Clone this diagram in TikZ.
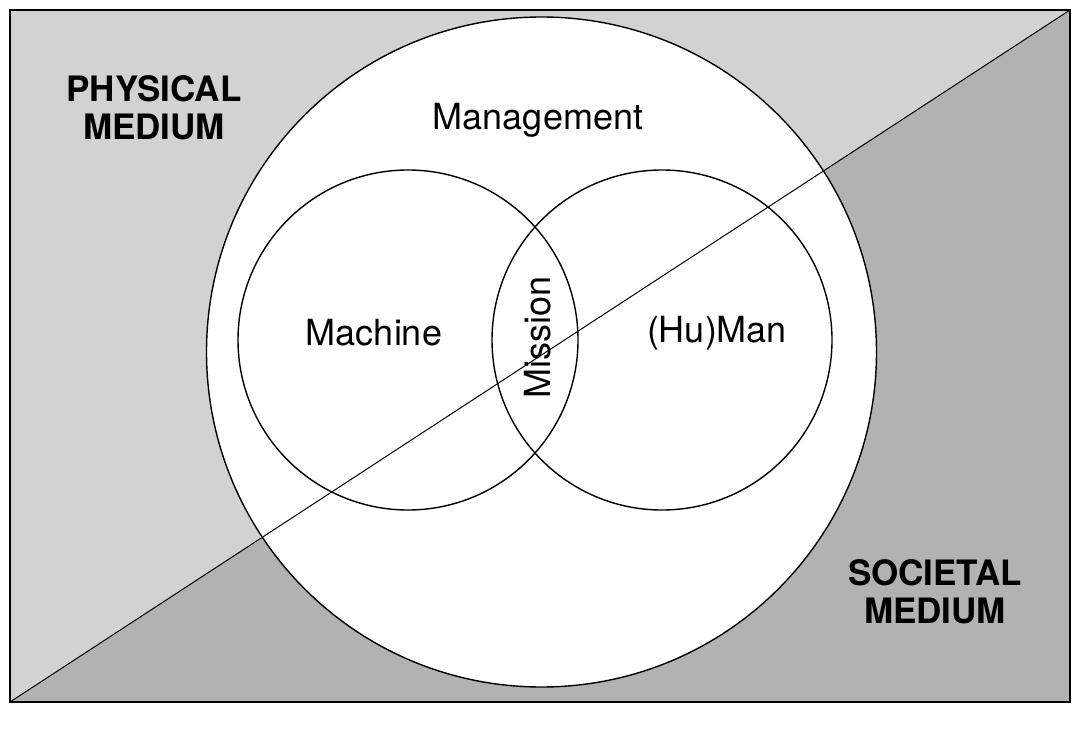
\documentclass[tikz,border=0pt]{standalone}
\usepackage{fontspec}
\setmainfont{TeX Gyre Heros}
\begin{document}
\begin{tikzpicture}[x=1pt,y=-1pt,
  lbl/.style={font=\fontsize{36}{40}\selectfont},
  blbl/.style={font=\fontsize{35}{38}\selectfont\bfseries,align=center},
  ln/.style={draw=black,line width=1.4pt}]
\useasboundingbox (0,0) rectangle (1083,751);
\coordinate (bl) at (10,702);
\coordinate (tr) at (1070,10);
\fill[gray!35] (10,10) -- (tr) -- (bl) -- cycle;
\fill[gray!60] (bl) -- (tr) -- (1070,702) -- cycle;
\draw[ln] (10,10) rectangle (1070,702);
\node[ln,circle,fill=white,minimum size=670pt,inner sep=0pt] (big) at (541.5,352) {};
\node[ln,circle,minimum size=340pt,inner sep=0pt] (mach) at (408,340) {};
\node[ln,circle,minimum size=340pt,inner sep=0pt] (man) at (662,340) {};
\draw[line width=1pt] (bl) -- (tr);
\node[lbl] (mgmt) at (538,120) {Management};
\node[lbl] (machine) at (374,333) {Machine};
\node[lbl] (human) at (717,333) {(Hu)Man};
\node[lbl,rotate=90] (mission) at (538,337) {Mission};
\node[blbl] (phys) at (154,108) {PHYSICAL\\MEDIUM};
\node[blbl] (soc) at (935,592) {SOCIETAL\\MEDIUM};
\end{tikzpicture}
\end{document}
